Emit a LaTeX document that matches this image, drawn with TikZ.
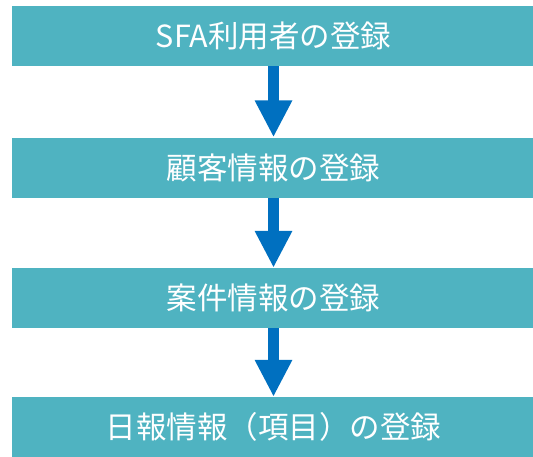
\documentclass[tikz,border=0pt]{standalone}
\usepackage{xcolor}
\usepackage{fontspec}
\setmainfont{Noto Sans CJK JP}
\definecolor{mteal}{HTML}{4FB3C1}
\definecolor{mblue}{HTML}{0070C0}
\usepackage{tikz}
\usetikzlibrary{arrows.meta}

\begin{document}
\begin{tikzpicture}[x=1pt, y=-1pt,
    stepbox/.style={fill=mteal, text=white, inner sep=0pt,
        minimum width=523pt, minimum height=60pt, font=\fontsize{30.5}{33}\selectfont},
    flow/.style={mblue, line width=11pt, -{Triangle[width=35pt, length=37pt]}}]

            \useasboundingbox (0, 0) rectangle (533, 456);

            \node[stepbox] (user) at (273.5, 36) {SFA利用者の登録};
            \node[stepbox] (client) at (273.5, 167.5) {顧客情報の登録};
            \node[stepbox] (deal) at (273.5, 298) {案件情報の登録};
            \node[stepbox] (report) at (273.5, 427) {日報情報（項目）の登録};

            \draw[flow] (user) -- (client);
            \draw[flow] (client) -- (deal);
            \draw[flow] (deal) -- (report);

          \end{tikzpicture}
\end{document}
